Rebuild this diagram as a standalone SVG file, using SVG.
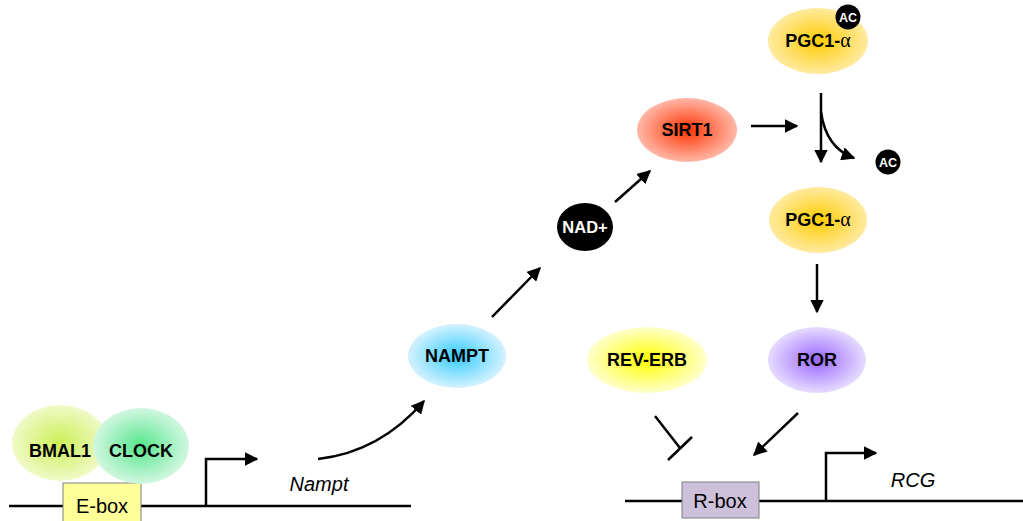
<svg xmlns="http://www.w3.org/2000/svg" width="1023" height="521" viewBox="0 0 1023 521">
  <defs>
    <radialGradient id="gBmal" cx="50%" cy="50%" r="50%">
      <stop offset="0" stop-color="#ccee55"/>
      <stop offset="1" stop-color="#f0fac8"/>
    </radialGradient>
    <radialGradient id="gClock" cx="50%" cy="50%" r="50%">
      <stop offset="0" stop-color="#55e68c"/>
      <stop offset="1" stop-color="#d2f7e0"/>
    </radialGradient>
    <radialGradient id="gNampt" cx="50%" cy="50%" r="50%">
      <stop offset="0" stop-color="#33ccff"/>
      <stop offset="1" stop-color="#d4f2ff"/>
    </radialGradient>
    <radialGradient id="gSirt" cx="50%" cy="50%" r="50%">
      <stop offset="0" stop-color="#ff3300"/>
      <stop offset="1" stop-color="#ffb8a8"/>
    </radialGradient>
    <radialGradient id="gPgc" cx="50%" cy="50%" r="50%">
      <stop offset="0" stop-color="#ffcc00"/>
      <stop offset="1" stop-color="#ffeaa0"/>
    </radialGradient>
    <radialGradient id="gRev" cx="50%" cy="50%" r="50%">
      <stop offset="0" stop-color="#ffff00"/>
      <stop offset="1" stop-color="#ffffcc"/>
    </radialGradient>
    <radialGradient id="gRor" cx="50%" cy="50%" r="50%">
      <stop offset="0" stop-color="#9966ff"/>
      <stop offset="1" stop-color="#e6dcff"/>
    </radialGradient>
    <marker id="arrow" viewBox="0 0 10 10" refX="9" refY="5" markerWidth="5.5" markerHeight="5.5" orient="auto" markerUnits="strokeWidth">
      <path d="M0,0 L10,5 L0,10 z" fill="#000"/>
    </marker>
    <style>
      .lbl { font-family: "Liberation Sans", Arial, sans-serif; font-weight: bold; font-size: 18px; fill: #000; text-anchor: middle; }
      .wlbl { font-family: "Liberation Sans", Arial, sans-serif; font-weight: bold; fill: #fff; text-anchor: middle; }
      .alpha { font-family: "Liberation Serif", "Times New Roman", serif; font-weight: normal; font-size: 20px; }
      .box { stroke: #7f7f7f; stroke-width: 1; }
      .boxtxt { font-family: "Liberation Sans", Arial, sans-serif; font-size: 20px; fill: #000; text-anchor: middle; }
      .gene { font-family: "Liberation Sans", Arial, sans-serif; font-style: italic; font-size: 20px; fill: #000; text-anchor: middle; }
      .dna { stroke: #000; stroke-width: 2.5; fill: none; }
      .edge { stroke: #000; stroke-width: 2.5; fill: none; }
    </style>
  </defs>

  <!-- DNA strands -->
  <g id="dna">
    <line class="dna" x1="9" y1="506" x2="411" y2="506"/>
    <line class="dna" x1="625" y1="501" x2="1023" y2="501"/>
  </g>

  <!-- promoter elements -->
  <g id="ebox">
    <rect class="box" x="63" y="483" width="78" height="40" fill="#ffff99"/>
    <text class="boxtxt" x="102" y="513">E-box</text>
  </g>
  <g id="rbox">
    <rect class="box" x="682" y="482" width="77" height="36" fill="#ccc0da"/>
    <text class="boxtxt" x="720" y="508">R-box</text>
  </g>

  <!-- gene labels -->
  <text id="nampt-gene" class="gene" x="319" y="491">Nampt</text>
  <text id="rcg-gene" class="gene" x="913" y="487">RCG</text>

  <!-- protein nodes -->
  <g id="bmal1">
    <ellipse cx="60" cy="443" rx="48" ry="38" fill="url(#gBmal)"/>
    <text class="lbl" x="60" y="457">BMAL1</text>
  </g>
  <g id="clock">
    <ellipse cx="141" cy="446" rx="48" ry="38" fill="url(#gClock)"/>
    <text class="lbl" x="141" y="457">CLOCK</text>
  </g>
  <g id="nampt">
    <ellipse cx="457" cy="356" rx="49" ry="32" fill="url(#gNampt)"/>
    <text class="lbl" x="457" y="362">NAMPT</text>
  </g>
  <g id="nad">
    <ellipse cx="585" cy="227" rx="28" ry="24" fill="#000"/>
    <text class="wlbl" x="585" y="233" font-size="16.5">NAD+</text>
  </g>
  <g id="sirt1">
    <ellipse cx="687" cy="130" rx="50" ry="32" fill="url(#gSirt)"/>
    <text class="lbl" x="687" y="136">SIRT1</text>
  </g>
  <g id="pgc1a-ac">
    <ellipse cx="818" cy="41" rx="50" ry="33" fill="url(#gPgc)"/>
    <text class="lbl" x="818" y="47">PGC1-<tspan class="alpha">α</tspan></text>
    <circle cx="848" cy="17" r="12.5" fill="#000"/>
    <text class="wlbl" x="848" y="21.5" font-size="12.5">AC</text>
  </g>
  <g id="ac-free">
    <circle cx="888" cy="162" r="12.5" fill="#000"/>
    <text class="wlbl" x="888" y="166.5" font-size="12.5">AC</text>
  </g>
  <g id="pgc1a">
    <ellipse cx="818" cy="220" rx="49" ry="33" fill="url(#gPgc)"/>
    <text class="lbl" x="818" y="226">PGC1-<tspan class="alpha">α</tspan></text>
  </g>
  <g id="reverb">
    <ellipse cx="647" cy="360" rx="60" ry="33" fill="url(#gRev)"/>
    <text class="lbl" x="647" y="366">REV-ERB</text>
  </g>
  <g id="ror">
    <ellipse cx="817" cy="360" rx="49" ry="33" fill="url(#gRor)"/>
    <text class="lbl" x="817" y="366">ROR</text>
  </g>

  <!-- connectors -->
  <g id="connectors">
    <!-- transcription start sites -->
    <path class="edge" d="M206,506 V459 H257" marker-end="url(#arrow)"/>
    <path class="edge" d="M826,501 V453 H876" marker-end="url(#arrow)"/>
    <!-- Nampt expression -->
    <path class="edge" d="M318,459 Q380,452 424,401" marker-end="url(#arrow)"/>
    <line class="edge" x1="492" y1="317" x2="540" y2="268" marker-end="url(#arrow)"/>
    <line class="edge" x1="615" y1="202" x2="650" y2="171" marker-end="url(#arrow)"/>
    <line class="edge" x1="751" y1="126" x2="797" y2="126" marker-end="url(#arrow)"/>
    <!-- deacetylation -->
    <line class="edge" x1="821" y1="93" x2="821" y2="162" marker-end="url(#arrow)"/>
    <path class="edge" d="M821,112 Q826,148 854,158" marker-end="url(#arrow)"/>
    <line class="edge" x1="817" y1="264" x2="817" y2="312" marker-end="url(#arrow)"/>
    <!-- regulation of R-box -->
    <line class="edge" x1="655" y1="416" x2="680" y2="448"/>
    <line class="edge" x1="668" y1="460" x2="692" y2="437"/>
    <line class="edge" x1="798" y1="413" x2="754" y2="455" marker-end="url(#arrow)"/>
  </g>
</svg>
